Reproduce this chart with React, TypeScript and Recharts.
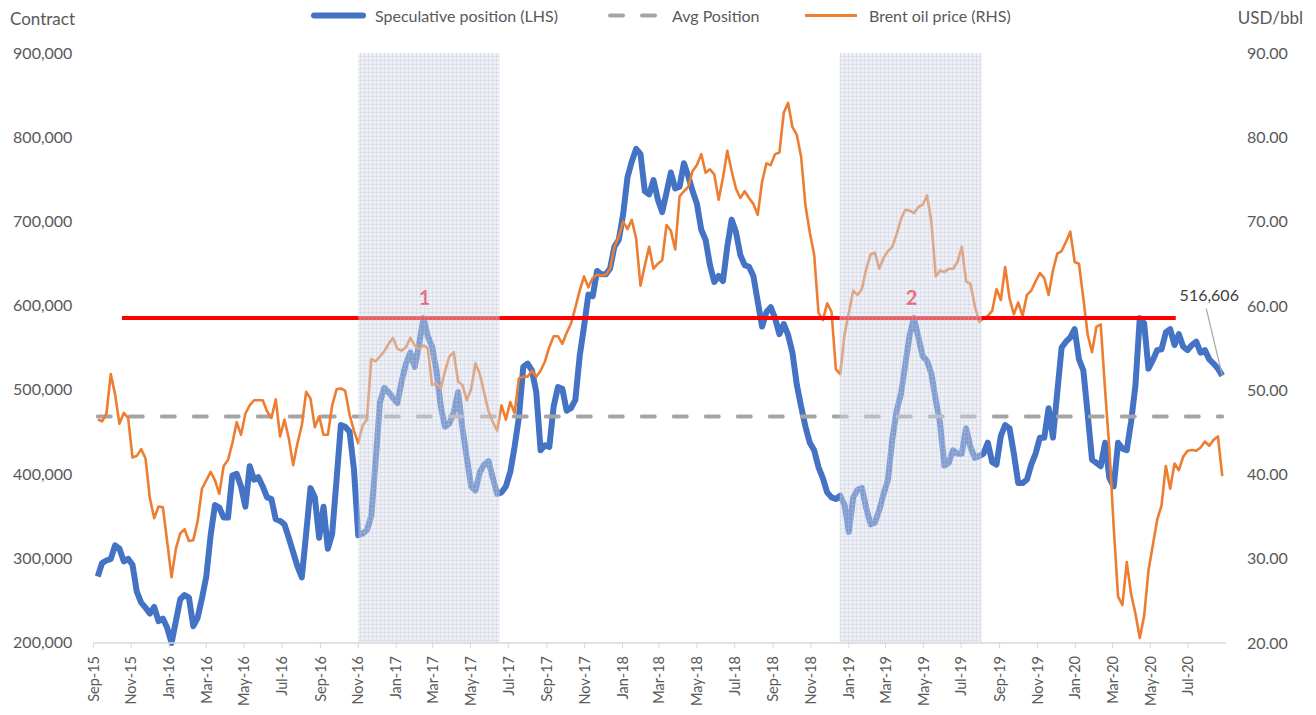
import React from "react";
import {
  ComposedChart,
  Line,
  XAxis,
  YAxis,
  ReferenceLine,
  ReferenceArea,
  ReferenceDot,
} from "recharts";

// weekly readings, first one on the date below
const firstWeek = "2015-09-08";

const speculative = [
  278000, 294000, 297000, 299000, 315000, 311000, 296000, 299000, 292000, 260000,
  247000, 241000, 234000, 242000, 225000, 228000, 217000, 199000, 225000, 251000,
  256000, 253000, 219000, 229000, 252000, 278000, 327000, 363000, 360000, 348000,
  348000, 398000, 400000, 385000, 361000, 409000, 393000, 396000, 385000, 372000,
  370000, 346000, 344000, 340000, 324000, 307000, 290000, 277000, 329000, 383000,
  372000, 324000, 361000, 311000, 329000, 393000, 458000, 456000, 450000, 406000,
  327000, 329000, 333000, 350000, 415000, 485000, 502000, 497000, 490000, 484000,
  510000, 531000, 544000, 527000, 553000, 585000, 564000, 551000, 523000, 480000,
  456000, 460000, 473000, 497000, 454000, 419000, 385000, 380000, 402000, 411000,
  415000, 395000, 376000, 378000, 385000, 402000, 432000, 467000, 527000, 531000,
  523000, 497000, 428000, 434000, 432000, 480000, 503000, 501000, 475000, 478000,
  488000, 540000, 575000, 613000, 611000, 641000, 637000, 637000, 644000, 670000,
  678000, 708000, 752000, 771000, 786000, 780000, 736000, 732000, 749000, 726000,
  711000, 734000, 758000, 739000, 741000, 769000, 754000, 736000, 721000, 690000,
  678000, 648000, 628000, 635000, 629000, 670000, 702000, 687000, 660000, 648000,
  646000, 635000, 605000, 575000, 592000, 598000, 585000, 566000, 578000, 565000,
  544000, 506000, 480000, 456000, 437000, 428000, 408000, 395000, 378000, 372000,
  370000, 374000, 363000, 331000, 372000, 381000, 383000, 359000, 340000, 342000,
  357000, 376000, 393000, 441000, 475000, 495000, 530000, 565000, 585000, 562000,
  540000, 534000, 519000, 488000, 460000, 410000, 413000, 428000, 424000, 424000,
  454000, 432000, 419000, 421000, 424000, 437000, 414000, 411000, 445000, 458000,
  454000, 424000, 389000, 389000, 393000, 411000, 424000, 443000, 443000, 478000,
  443000, 497000, 550000, 557000, 562000, 572000, 536000, 523000, 471000, 417000,
  413000, 409000, 437000, 395000, 385000, 437000, 430000, 428000, 462000, 505000,
  585000, 579000, 525000, 535000, 547000, 548000, 568000, 572000, 553000, 566000,
  551000, 547000, 553000, 557000, 544000, 547000, 536000, 531000, 525000, 516606,
];

const brent = [
  46.5, 46.3, 47.2, 51.9, 49.5, 46.0, 47.3, 46.7, 42.0, 42.2,
  43.0, 41.9, 37.2, 34.8, 36.2, 36.1, 32.0, 27.8, 31.2, 33.0,
  33.5, 32.1, 32.2, 34.4, 38.3, 39.3, 40.3, 39.3, 37.7, 41.0,
  41.7, 43.7, 46.2, 44.7, 47.2, 48.2, 48.8, 48.8, 48.8, 47.5,
  46.7, 48.9, 44.5, 46.5, 44.3, 41.1, 43.7, 45.8, 49.8, 49.0,
  45.6, 46.9, 44.7, 44.7, 48.2, 50.1, 50.2, 49.9, 47.1, 45.2,
  43.7, 45.8, 46.5, 53.7, 53.4, 54.0, 54.6, 55.5, 56.2, 54.9,
  54.7, 55.1, 56.2, 55.3, 54.9, 55.3, 55.0, 50.6, 50.8, 50.2,
  52.3, 54.0, 54.5, 51.0, 50.6, 48.8, 50.1, 53.2, 51.9, 49.7,
  47.5, 46.2, 45.2, 48.2, 46.5, 48.6, 47.3, 51.4, 51.6, 51.6,
  52.3, 51.6, 52.3, 53.4, 55.1, 56.4, 56.4, 55.5, 56.8, 57.9,
  59.8, 61.8, 63.5, 62.2, 63.3, 63.7, 63.6, 63.7, 64.4, 67.0,
  68.2, 70.0, 69.1, 70.2, 68.0, 62.4, 64.8, 67.0, 64.4, 65.0,
  65.4, 69.6, 68.9, 66.7, 73.0, 73.6, 74.1, 76.0, 76.7, 78.0,
  75.8, 76.2, 75.6, 72.6, 75.2, 78.4, 76.0, 73.9, 72.8, 73.6,
  72.8, 72.1, 70.8, 74.7, 76.9, 76.7, 78.0, 78.2, 82.9, 84.1,
  81.2, 80.3, 77.7, 71.9, 68.7, 66.1, 59.2, 58.3, 60.3, 59.3,
  52.5, 51.9, 56.6, 59.2, 61.8, 61.3, 62.0, 64.4, 66.1, 66.3,
  64.4, 65.7, 66.5, 67.0, 68.5, 70.3, 71.4, 71.3, 71.0, 71.7,
  72.0, 73.1, 70.0, 63.5, 64.2, 64.0, 64.4, 64.4, 65.2, 67.0,
  62.9, 62.6, 60.0, 58.1, 58.5, 58.8, 59.4, 62.0, 60.7, 64.6,
  60.9, 59.0, 60.4, 58.8, 61.3, 61.8, 62.9, 63.9, 63.3, 61.3,
  64.2, 66.2, 66.5, 67.6, 68.8, 65.2, 65.0, 60.9, 56.6, 54.5,
  57.5, 57.8, 50.1, 43.0, 33.7, 25.5, 24.5, 29.6, 25.8, 23.5,
  20.6, 23.2, 28.6, 31.6, 34.6, 36.3, 41.0, 38.3, 41.3, 40.5,
  42.1, 42.8, 42.9, 42.8, 43.2, 43.9, 43.4, 44.1, 44.5, 39.8,
];

const avgPosition = 468000;
const resistanceLevel = 585000;
const resistanceFrom = "2015-10-17";
const resistanceTo = "2020-06-11";

const shadedPeriods = [
  { from: "2016-11-01", to: "2017-06-17" },
  { from: "2018-12-17", to: "2019-08-03" },
];
const peakMarks = [
  { text: "1", date: "2017-02-16", level: 610000 },
  { text: "2", date: "2019-04-12", level: 610000 },
];

const dateTicks = [
  "Sep-15", "Nov-15", "Jan-16", "Mar-16", "May-16", "Jul-16", "Sep-16", "Nov-16",
  "Jan-17", "Mar-17", "May-17", "Jul-17", "Sep-17", "Nov-17", "Jan-18", "Mar-18",
  "May-18", "Jul-18", "Sep-18", "Nov-18", "Jan-19", "Mar-19", "May-19", "Jul-19",
  "Sep-19", "Nov-19", "Jan-20", "Mar-20", "May-20", "Jul-20",
];
const axisStart = "2015-09-01";
const axisEnd = "2020-08-31";
const contractTicks = [200000, 300000, 400000, 500000, 600000, 700000, 800000, 900000];
const priceTicks = [20, 30, 40, 50, 60, 70, 80, 90];

const legendItems = [
  { name: "Speculative position (LHS)", color: "#4472C4" },
  { name: "Avg Position", color: "#A5A5A5" },
  { name: "Brent oil price (RHS)", color: "#ED7D31" },
];

const DAY = 86400000;
const MONTHS = ["Jan", "Feb", "Mar", "Apr", "May", "Jun", "Jul", "Aug", "Sep", "Oct", "Nov", "Dec"];
const toDay = (iso: string) => Date.parse(iso) / DAY;
const labelToDay = (lbl: string) => {
  const [m, y] = lbl.split("-");
  return Date.UTC(2000 + Number(y), MONTHS.indexOf(m), 1) / DAY;
};

const start = toDay(firstWeek);
const rows = speculative.map((v, i) => ({
  t: start + i * 7,
  spec: v,
  brent: brent[i],
  avg: avgPosition,
}));
const tickDays = dateTicks.map(labelToDay);
const tickName: Record<number, string> = {};
dateTicks.forEach((l, i) => (tickName[tickDays[i]] = l));

const FONT = "Lato, 'Open Sans', sans-serif";
const TXT = "#595959";

const XTick = (props: any) => {
  const { x, y, payload } = props;
  return (
    <text
      x={x}
      y={y}
      transform={`rotate(-90, ${x}, ${y})`}
      textAnchor="end"
      dy="0.36em"
      fill={TXT}
      fontSize={14.5}
      fontFamily={FONT}
    >
      {tickName[payload.value]}
    </text>
  );
};

export default function App() {
  const last = rows[rows.length - 1];
  return (
    <div style={{ position: "absolute", left: 0, top: 0, width: 1316, height: 715, background: "#fff", fontFamily: FONT }}>
      <ComposedChart width={1316} height={715} data={rows} margin={{ top: 53, right: 0, bottom: 0, left: 0 }}>
        <defs>
          <pattern id="shadeGrid" width="4" height="4" patternUnits="userSpaceOnUse">
            <rect width="4" height="4" fill="#D6DCE8" fillOpacity={0.42} />
            <path d="M0 0.5 H4 M0.5 0 V4" fill="none" stroke="#B4BFD4" strokeOpacity={0.28} strokeWidth={1} />
          </pattern>
        </defs>
        <XAxis
          dataKey="t"
          type="number"
          domain={[toDay(axisStart), toDay(axisEnd)]}
          ticks={tickDays}
          interval={0}
          allowDataOverflow
          height={72}
          tickSize={5}
          tickMargin={8}
          axisLine={{ stroke: "#D9D9D9", strokeWidth: 1.3 }}
          tickLine={{ stroke: "#D9D9D9" }}
          tick={<XTick />}
        />
        <YAxis
          yAxisId="left"
          width={93.4}
          domain={[200000, 900000]}
          ticks={contractTicks}
          interval={0}
          axisLine={false}
          tickLine={false}
          tickSize={0}
          tickMargin={21}
          tickFormatter={(v: number) => v.toLocaleString("en-US")}
          tick={{ fill: TXT, fontSize: 16, fontFamily: FONT }}
        />
        <YAxis
          yAxisId="right"
          orientation="right"
          width={90}
          domain={[20, 90]}
          ticks={priceTicks}
          interval={0}
          axisLine={false}
          tickLine={false}
          tickSize={0}
          tickMargin={21}
          tickFormatter={(v: number) => v.toFixed(2)}
          tick={{ fill: TXT, fontSize: 16, fontFamily: FONT }}
        />
        <Line
          yAxisId="left"
          dataKey="spec"
          type="linear"
          stroke="#4472C4"
          strokeWidth={6}
          strokeLinejoin="round"
          dot={false}
          activeDot={false}
          isAnimationActive={false}
          zIndex={401}
        />
        <Line
          yAxisId="left"
          dataKey="avg"
          type="linear"
          stroke="#A5A5A5"
          strokeWidth={4}
          strokeDasharray="13 19"
          strokeLinecap="round"
          dot={false}
          activeDot={false}
          isAnimationActive={false}
          zIndex={402}
        />
        <Line
          yAxisId="right"
          dataKey="brent"
          type="linear"
          stroke="#ED7D31"
          strokeWidth={2.6}
          strokeLinejoin="round"
          dot={false}
          activeDot={false}
          isAnimationActive={false}
          zIndex={403}
        />
        <ReferenceLine
          yAxisId="left"
          segment={[
            { x: toDay(resistanceFrom), y: resistanceLevel },
            { x: toDay(resistanceTo), y: resistanceLevel },
          ]}
          stroke="#FF0000"
          strokeWidth={4}
          ifOverflow="visible"
          isFront
          zIndex={404}
        />
        {peakMarks.map((p) => (
          <ReferenceDot
            key={p.text}
            yAxisId="left"
            x={toDay(p.date)}
            y={p.level}
            r={0}
            isFront
            zIndex={405}
            shape={(s: any) => (
              <text
                x={s.cx}
                y={s.cy}
                textAnchor="middle"
                dominantBaseline="central"
                fill="#FF0A1E"
                fontSize={20}
                fontWeight={700}
                fontFamily={FONT}
              >
                {p.text}
              </text>
            )}
          />
        ))}
        {shadedPeriods.map((s) => (
          <ReferenceArea
            key={s.from}
            yAxisId="left"
            x1={toDay(s.from)}
            x2={toDay(s.to)}
            fill="url(#shadeGrid)"
            fillOpacity={1}
            stroke="none"
            ifOverflow="visible"
            isFront
            zIndex={406}
          />
        ))}
        <ReferenceDot
          yAxisId="left"
          x={last.t}
          y={last.spec}
          r={0}
          isFront
          zIndex={407}
          shape={(s: any) => (
            <g>
              <line x1={s.cx - 16} y1={s.cy - 67} x2={s.cx} y2={s.cy} stroke="#A6A6A6" strokeWidth={1.2} />
              <text x={s.cx - 13} y={s.cy - 81} textAnchor="middle" dominantBaseline="central" fill="#404040" fontSize={16} fontFamily={FONT}>
                {last.spec.toLocaleString("en-US")}
              </text>
            </g>
          )}
        />
      </ComposedChart>
      <svg width={1316} height={40} style={{ position: "absolute", left: 0, top: 0 }}>
        <text x={10} y={18} dominantBaseline="central" fill={TXT} fontSize={17} fontFamily={FONT}>
          Contract
        </text>
        <text x={1303} y={17} textAnchor="end" dominantBaseline="central" fill={TXT} fontSize={17} fontFamily={FONT}>
          USD/bbl
        </text>
        <line x1={314} y1={15.5} x2={363} y2={15.5} stroke={legendItems[0].color} strokeWidth={6} strokeLinecap="round" />
        <text x={375} y={15.5} dominantBaseline="central" fill={TXT} fontSize={16} fontFamily={FONT}>
          {legendItems[0].name}
        </text>
        <line x1={610} y1={15.5} x2={657} y2={15.5} stroke={legendItems[1].color} strokeWidth={4} strokeDasharray="13 19" strokeLinecap="round" />
        <text x={672} y={15.5} dominantBaseline="central" fill={TXT} fontSize={16} fontFamily={FONT}>
          {legendItems[1].name}
        </text>
        <line x1={805} y1={15.5} x2={857} y2={15.5} stroke={legendItems[2].color} strokeWidth={3} />
        <text x={869} y={15.5} dominantBaseline="central" fill={TXT} fontSize={16} fontFamily={FONT}>
          {legendItems[2].name}
        </text>
      </svg>
    </div>
  );
}
